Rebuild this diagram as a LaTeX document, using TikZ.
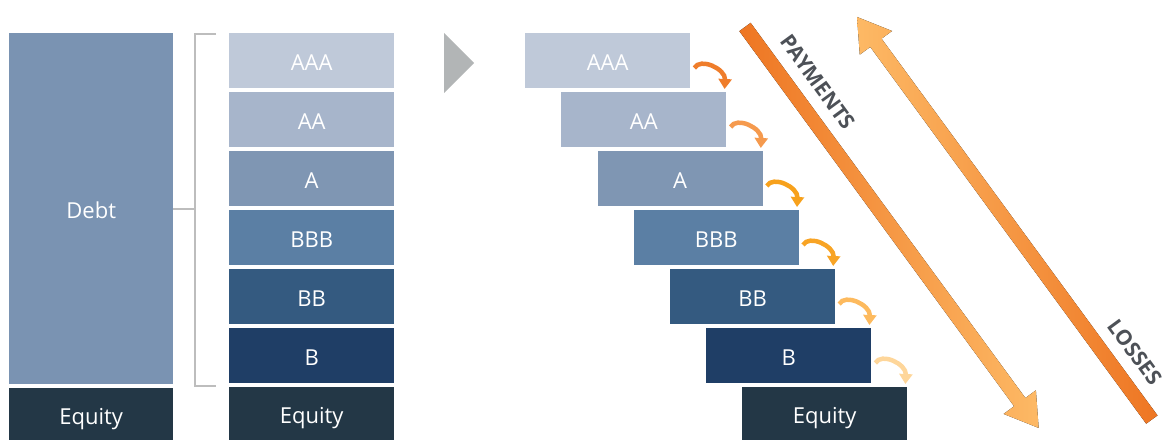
\documentclass[tikz,border=0pt]{standalone}
\usepackage{fontspec}
\setmainfont{Open Sans}
\usetikzlibrary{arrows.meta,calc}

% tranche colours
\definecolor{cDebt}{HTML}{7A93B2}
\definecolor{cAAA}{HTML}{BFC9D9}
\definecolor{cAA}{HTML}{A7B5CB}
\definecolor{cA}{HTML}{7F96B3}
\definecolor{cBBB}{HTML}{5B7FA4}
\definecolor{cBB}{HTML}{345A80}
\definecolor{cB}{HTML}{1F3E66}
\definecolor{cEq}{HTML}{233746}
\definecolor{cBrk}{HTML}{BDBDBD}
\definecolor{cTri}{HTML}{B2B5B6}
\definecolor{cTxt}{HTML}{4D5157}
% flow colours
\definecolor{f1}{HTML}{EF7D2B}
\definecolor{f2}{HTML}{F59A4E}
\definecolor{f3}{HTML}{F7A11C}
\definecolor{f4}{HTML}{F8A425}
\definecolor{f5}{HTML}{FDBA5E}
\definecolor{f6}{HTML}{FED69A}
\definecolor{oDark}{HTML}{EE7623}
\definecolor{oLight}{HTML}{FDB965}

\begin{document}
\begin{tikzpicture}[x=1pt, y=-1pt,
  tranche/.style={anchor=north west, minimum width=165pt, minimum height=55pt,
    inner sep=0pt, text=white, text height=20.5pt, text depth=0pt,
    font=\fontsize{22}{26}\selectfont},
  flow/.style={line width=4.5pt, -{Triangle[width=13pt,length=10pt]}},
  brk/.style={cBrk, line width=2pt},
  side/.style={text=cTxt, font=\bfseries\fontsize{21}{24}\selectfont, rotate=-53.8}]
\useasboundingbox (0,0) rectangle (1170,441);

% capital structure
\node[tranche, fill=cDebt, minimum width=164pt, minimum height=351pt] (debt) at (9,33) {Debt};
\node[tranche, fill=cEq, minimum width=164pt, minimum height=52pt] (eq) at (9,388) {Equity};

% tranches, stacked and staggered
\foreach \lab/\col [count=\i] in {AAA/cAAA, AA/cAA, A/cA, BBB/cBBB, BB/cBB, B/cB}{
  \node[tranche, fill=\col] (m\i) at (229,{33+59*(\i-1)}) {\lab};
  \node[tranche, fill=\col] (r\i) at ({525+36.2*(\i-1)},{33+59*(\i-1)}) {\lab};
}
\node[tranche, fill=cEq, minimum height=53pt] (m7) at (229,387) {Equity};
\node[tranche, fill=cEq, minimum height=53pt] (r7) at (742,387) {Equity};

% bracket
\coordinate (bt) at (195,34);
\coordinate (bb) at (195,386);
\draw[brk] (216,34) -- (bt) -- (bb) -- (216,386);
\draw[brk] (debt.east) -- (debt.east -| bt);

% triangle
\fill[cTri] (444,33) -- (474,63) -- (444,93) -- cycle;

% waterfall
\foreach \i/\j/\col in {1/2/f1, 2/3/f2, 3/4/f3, 4/5/f4, 5/6/f5, 6/7/f6}
  \draw[flow, \col] ($(r\i.north east)+(4,35)$) .. controls +(6,-11) and +(1,-20) .. ($(r\j.north east)+(-2,-3)$);

% payments
\begin{scope}[shift={(745,27)}, rotate=-53.78]
  \fill[left color=oDark, right color=oLight] (0,-7) -- (465,-7) -- (465,-20) -- (497,0)
    -- (465,20) -- (465,7) -- (0,7) -- cycle;
\end{scope}
% losses
\begin{scope}[shift={(857,17)}, rotate=-53.78]
  \fill[left color=oLight, right color=oDark] (0,0) -- (32,20) -- (32,7) -- (499,7)
    -- (499,-7) -- (32,-7) -- (32,-20) -- cycle;
\end{scope}

\node[side] (pay) at (818,82) {PAYMENTS};
\node[side] (loss) at (1135,352) {LOSSES};
\end{tikzpicture}
\end{document}
